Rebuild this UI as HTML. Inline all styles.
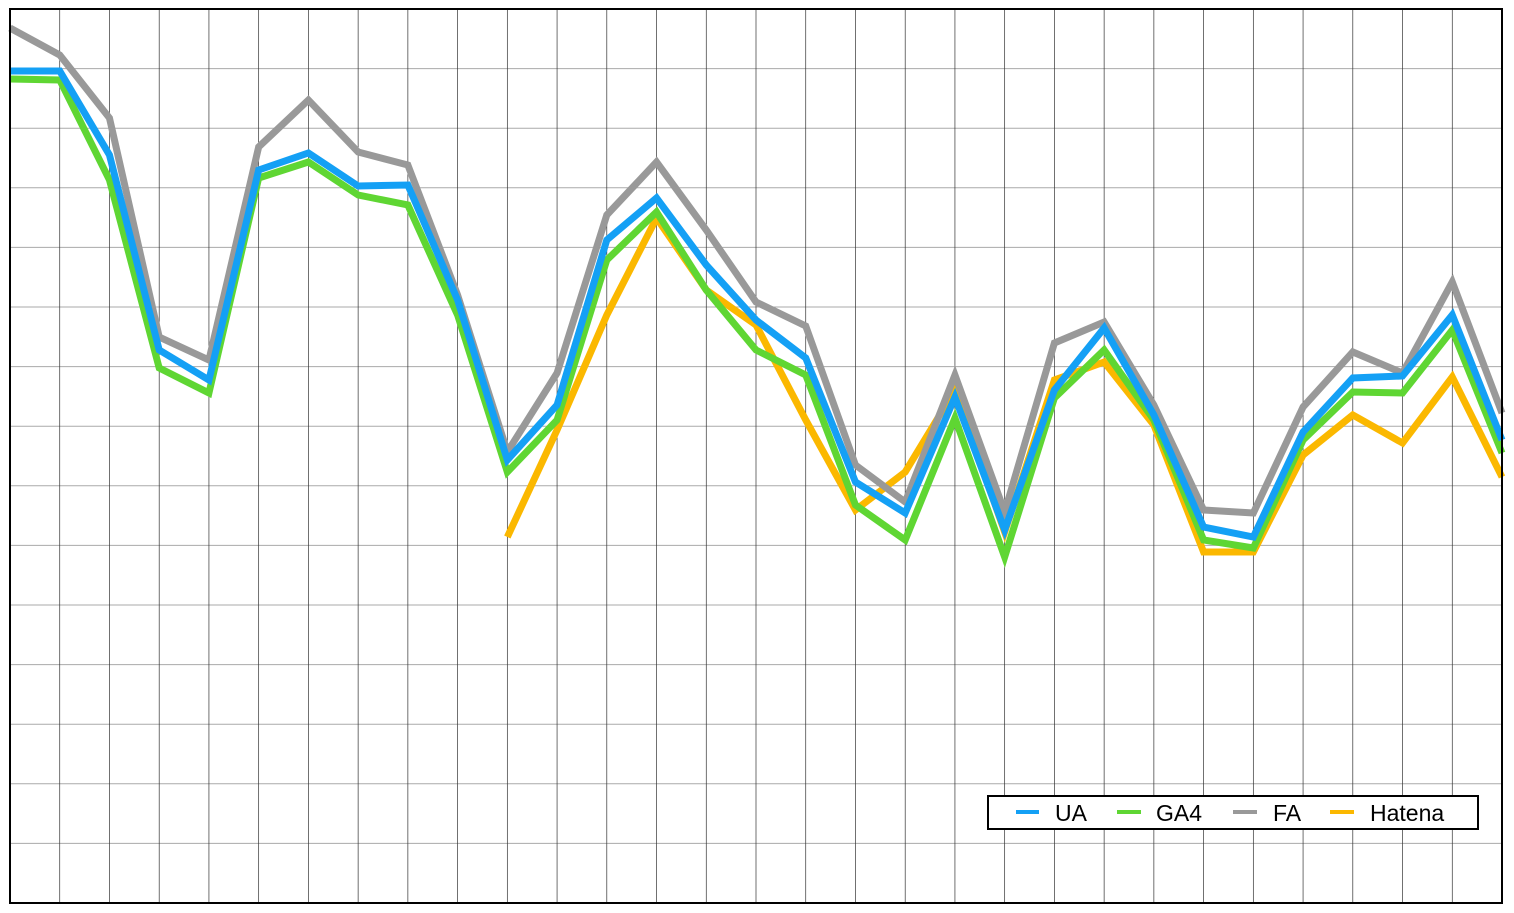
<!DOCTYPE html>
<html><head><style>html,body{margin:0;padding:0;background:#fff}svg{display:block}</style></head><body>
<svg width="1514" height="913" xmlns="http://www.w3.org/2000/svg">
<rect width="1514" height="913" fill="#fff"/>
<g id="grid"></g>
<script>
const ns="http://www.w3.org/2000/svg",g=document.getElementById("grid");
function L(x1,y1,x2,y2,c,w){const l=document.createElementNS(ns,"line");l.setAttribute("x1",x1);l.setAttribute("y1",y1);l.setAttribute("x2",x2);l.setAttribute("y2",y2);l.setAttribute("stroke",c);l.setAttribute("stroke-width",w);g.appendChild(l);}
for(let j=1;j<15;j++){const y=9+j*894/15;L(10,y,1502,y,"#aaa",1);}
for(let i=1;i<30;i++){const x=10+i*1492/30;L(x,9,x,903,"#333",0.7);}
const X=i=>10+i*1492/30;
const S={
H:[[10,537],[11,430],[12,315],[13,218],[14,290],[15,325],[16,420],[17,510],[18,472],[19,390],[20,532],[21,380],[22,362],[23,425],[24,552],[25,552],[26,455],[27,415],[28,443],[29,377],[30,477]],
F:[28,55,118,337,360,147,100,152,165,295,452,373,215,162,230,302,326,465,502,375,512,343,322,405,510,513,407,352,373,282,413],
G:[79,80,180,368,393,178,162,195,205,315,472,420,260,212,290,350,375,505,540,418,557,398,350,420,540,548,440,392,393,330,453],
U:[71,71,155,350,380,170,153,186,185,300,460,405,240,198,265,320,358,482,513,397,530,390,328,415,527,537,432,378,376,315,440]};
function P(pts,c){const p=document.createElementNS(ns,"polyline");p.setAttribute("points",pts.map(a=>a.join(",")).join(" "));p.setAttribute("fill","none");p.setAttribute("stroke",c);p.setAttribute("stroke-width",7);p.setAttribute("stroke-linejoin","miter");g.appendChild(p);}
P(S.H.map(a=>[X(a[0]),a[1]]),"#fbb800");
P(S.F.map((y,i)=>[X(i),y]),"#999999");
P(S.G.map((y,i)=>[X(i),y]),"#5fd633");
P(S.U.map((y,i)=>[X(i),y]),"#14a0f5");
</script>
<rect x="10" y="9" width="1492" height="894" fill="none" stroke="#000" stroke-width="2"/>
<rect x="988" y="796" width="490" height="33" fill="#fff" stroke="#000" stroke-width="2"/>
<g font-family="Liberation Sans, sans-serif" font-size="23" fill="#000">
<rect x="1016" y="810" width="23" height="4" fill="#14a0f5"/><text x="1055" y="821">UA</text>
<rect x="1117" y="810" width="24" height="4" fill="#5fd633"/><text x="1156" y="821">GA4</text>
<rect x="1233" y="810" width="24" height="4" fill="#999"/><text x="1273" y="821">FA</text>
<rect x="1330" y="810" width="24" height="4" fill="#fbb800"/><text x="1370" y="821">Hatena</text>
</g>
</svg>
</body></html>
